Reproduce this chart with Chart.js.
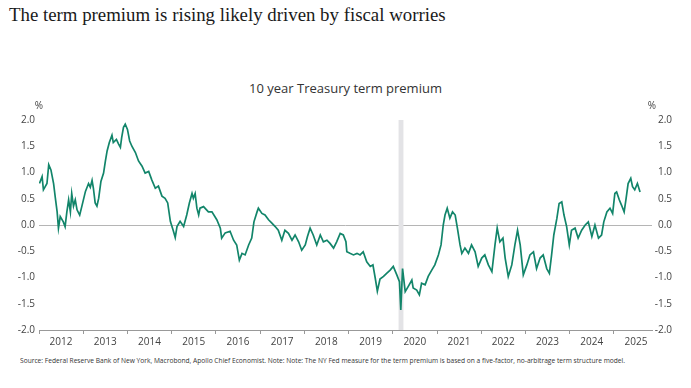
<!DOCTYPE html>
<html>
<head>
<meta charset="utf-8">
<script src="https://cdn.jsdelivr.net/npm/chart.js"></script>
<style>
  body { margin: 0; background: #fff; width: 691px; height: 388px; overflow: hidden; position: relative; font-family: "Open Sans", sans-serif; }
  #title { position: absolute; left: 9px; top: 4px; font-family: "Liberation Serif", serif; font-size: 20px; color: #1a1a1a; white-space: nowrap; }
  #sub { position: absolute; left: 0; width: 691px; top: 79px; text-align: center; font-size: 13px; color: #333; }
  #wrap { position: absolute; left: 0; top: 95px; width: 691px; height: 255px; }
  #note { position: absolute; left: 20px; top: 356px; font-size: 7px; color: #333; white-space: nowrap; transform-origin: 0 0; }
</style>
</head>
<body>
<div id="title">The term premium is rising likely driven by fiscal worries</div>
<div id="sub">10 year Treasury term premium</div>
<div id="wrap"><canvas id="chart"></canvas></div>
<div id="note">Source: Federal Reserve Bank of New York, Macrobond, Apollo Chief Economist. Note: Note: The NY Fed measure for the term premium is based on a five-factor, no-arbitrage term structure model.</div>
<script>
// decimal years and term premium (%)
const years = [
  2012.01, 2012.07, 2012.10, 2012.18, 2012.22, 2012.27, 2012.33, 2012.37, 2012.41, 2012.44,
  2012.48, 2012.55, 2012.59, 2012.63, 2012.67, 2012.71, 2012.74, 2012.78, 2012.82, 2012.86,
  2012.92, 2012.97, 2013.05, 2013.12, 2013.16, 2013.20, 2013.23, 2013.27, 2013.31, 2013.35,
  2013.40, 2013.46, 2013.50, 2013.54, 2013.59, 2013.65, 2013.68, 2013.75, 2013.80, 2013.84,
  2013.87, 2013.91, 2013.95, 2014.00, 2014.05, 2014.10, 2014.18, 2014.25, 2014.33, 2014.40,
  2014.48, 2014.55, 2014.63, 2014.70, 2014.78, 2014.85, 2014.91, 2014.97, 2015.04, 2015.08,
  2015.12, 2015.19, 2015.27, 2015.34, 2015.40, 2015.46, 2015.49, 2015.53, 2015.57, 2015.61,
  2015.64, 2015.72, 2015.83, 2015.91, 2016.02, 2016.10, 2016.13, 2016.21, 2016.32, 2016.40,
  2016.47, 2016.53, 2016.59, 2016.66, 2016.74, 2016.81, 2016.86, 2016.93, 2016.96, 2017.04,
  2017.11, 2017.19, 2017.26, 2017.34, 2017.41, 2017.49, 2017.56, 2017.64, 2017.72, 2017.79,
  2017.87, 2017.94, 2018.02, 2018.07, 2018.13, 2018.20, 2018.28, 2018.36, 2018.43, 2018.51,
  2018.58, 2018.66, 2018.73, 2018.81, 2018.88, 2018.94, 2018.96, 2019.03, 2019.11, 2019.19,
  2019.26, 2019.33, 2019.41, 2019.49, 2019.55, 2019.60, 2019.65, 2019.71, 2019.79, 2019.86,
  2019.94, 2020.01, 2020.09, 2020.15, 2020.18, 2020.22, 2020.28, 2020.35, 2020.43, 2020.46,
  2020.54, 2020.60, 2020.65, 2020.73, 2020.80, 2020.88, 2020.95, 2021.03, 2021.09, 2021.14,
  2021.18, 2021.23, 2021.29, 2021.35, 2021.41, 2021.46, 2021.52, 2021.56, 2021.63, 2021.71,
  2021.78, 2021.86, 2021.93, 2022.01, 2022.08, 2022.16, 2022.24, 2022.31, 2022.36, 2022.42,
  2022.49, 2022.54, 2022.61, 2022.69, 2022.76, 2022.82, 2022.88, 2022.95, 2023.03, 2023.10,
  2023.18, 2023.25, 2023.33, 2023.40, 2023.48, 2023.54, 2023.59, 2023.64, 2023.71, 2023.76,
  2023.82, 2023.87, 2023.93, 2023.99, 2024.04, 2024.12, 2024.19, 2024.27, 2024.35, 2024.42,
  2024.50, 2024.57, 2024.65, 2024.72, 2024.77, 2024.84, 2024.91, 2024.97, 2025.02, 2025.06,
  2025.12, 2025.17, 2025.23, 2025.27, 2025.32, 2025.38, 2025.42, 2025.47, 2025.53, 2025.59
];
const premium = [
  0.79, 0.92, 0.67, 0.79, 1.15, 1.05, 0.79, 0.51, 0.25, -0.06,
  0.16, 0.06, -0.03, 0.25, 0.48, 0.25, 0.60, 0.36, 0.48, 0.29,
  0.19, 0.36, 0.64, 0.79, 0.72, 0.85, 0.70, 0.42, 0.36, 0.51,
  0.83, 0.99, 1.21, 1.41, 1.57, 1.71, 1.57, 1.63, 1.54, 1.48,
  1.67, 1.86, 1.92, 1.82, 1.60, 1.50, 1.38, 1.22, 1.12, 0.99,
  1.02, 0.86, 0.70, 0.74, 0.55, 0.51, 0.42, 0.07, -0.12, -0.24,
  -0.03, 0.07, -0.03, 0.19, 0.42, 0.60, 0.51, 0.60, 0.32, 0.19,
  0.32, 0.35, 0.25, 0.25, 0.10, -0.06, -0.25, -0.15, -0.12, -0.29,
  -0.38, -0.67, -0.54, -0.57, -0.38, -0.25, 0.06, 0.25, 0.32, 0.22,
  0.19, 0.10, 0.04, -0.03, -0.10, -0.29, -0.10, -0.16, -0.29, -0.19,
  -0.32, -0.48, -0.38, -0.22, -0.06, -0.19, -0.38, -0.19, -0.32, -0.29,
  -0.35, -0.44, -0.32, -0.16, -0.19, -0.32, -0.51, -0.54, -0.57, -0.54,
  -0.57, -0.51, -0.70, -0.79, -0.76, -1.00, -1.26, -1.03, -0.98, -0.92,
  -0.86, -0.79, -0.95, -1.08, -1.62, -0.83, -1.27, -1.17, -1.05, -1.20,
  -1.24, -1.33, -1.11, -1.14, -0.98, -0.86, -0.76, -0.57, -0.38, 0.00,
  0.19, 0.32, 0.13, 0.25, 0.19, -0.06, -0.38, -0.54, -0.44, -0.54,
  -0.38, -0.51, -0.79, -0.63, -0.57, -0.76, -0.89, -0.38, -0.06, -0.32,
  -0.25, -0.63, -0.98, -0.76, -0.38, -0.10, -0.38, -0.95, -0.76, -0.57,
  -0.51, -0.83, -0.63, -0.57, -0.83, -0.92, -0.57, -0.19, 0.13, 0.41,
  0.44, 0.19, -0.03, -0.38, -0.10, -0.06, -0.25, -0.10, 0.00, 0.06,
  -0.22, 0.00, -0.25, -0.19, 0.06, 0.25, 0.32, 0.22, 0.60, 0.63,
  0.48, 0.38, 0.25, 0.48, 0.79, 0.89, 0.73, 0.67, 0.79, 0.63
];
const yearTicks = [2012, 2013, 2014, 2015, 2016, 2017, 2018, 2019, 2020, 2021, 2022, 2023, 2024, 2025];
const valueTicks = [-2, -1.5, -1, -0.5, 0, 0.5, 1, 1.5, 2];
const covidBand = [2020.13, 2020.24];

// fit the header and footer text to the width seen in the picture
const title = document.getElementById('title');
title.style.fontSize = (20 * 437 / title.offsetWidth) + 'px';
const note = document.getElementById('note');
note.style.transform = 'scaleX(' + (605 / note.offsetWidth) + ')';

const tickFont = { family: '"Open Sans", sans-serif', size: 10 };
const tickColor = '#444';

const extras = {
  id: 'extras',
  beforeDatasetsDraw(chart) {
    const { ctx, chartArea, scales } = chart;
    const x0 = scales.x.getPixelForValue(covidBand[0]);
    const x1 = scales.x.getPixelForValue(covidBand[1]);
    ctx.save();
    ctx.fillStyle = '#e3e3e6';
    ctx.fillRect(x0, chartArea.top, x1 - x0, chartArea.bottom - chartArea.top);
    ctx.restore();
  },
  afterDraw(chart) {
    const { ctx, chartArea } = chart;
    ctx.save();
    ctx.font = '10px "Open Sans", sans-serif';
    ctx.fillStyle = tickColor;
    ctx.textAlign = 'center';
    ctx.fillText('%', chartArea.left, chartArea.top - 11);
    ctx.fillText('%', chartArea.right, chartArea.top - 11);
    ctx.restore();
  }
};

new Chart(document.getElementById('chart'), {
  type: 'line',
  data: {
    datasets: [{
      data: years.map((x, i) => ({ x: x, y: premium[i] })),
      borderColor: '#12856a',
      borderWidth: 1.7,
      pointRadius: 0,
      tension: 0
    }]
  },
  options: {
    responsive: true,
    maintainAspectRatio: false,
    animation: false,
    layout: { padding: { top: 25, right: 19, bottom: 0, left: 0 } },
    plugins: { legend: { display: false }, tooltip: { enabled: false } },
    scales: {
      x: {
        type: 'linear',
        min: 2012,
        max: 2025.86,
        afterBuildTicks: s => { s.ticks = yearTicks.map(v => ({ value: v })); },
        ticks: {
          autoSkip: false, maxRotation: 0, labelOffset: 22, padding: 2,
          font: tickFont, color: tickColor,
          callback: v => String(v)
        },
        grid: { drawOnChartArea: false, drawTicks: true, tickLength: 4, color: '#999' },
        border: { display: true, color: '#999' }
      },
      y: {
        position: 'left',
        min: -2, max: 2,
        afterBuildTicks: s => { s.ticks = valueTicks.map(v => ({ value: v })); },
        afterFit: s => { s.width = 39; },
        ticks: { font: tickFont, color: tickColor, padding: 4, callback: v => v.toFixed(1) },
        grid: { drawTicks: false, color: c => c.tick && c.tick.value === 0 ? '#b5b5b5' : 'rgba(0,0,0,0)' },
        border: { display: false }
      },
      y2: {
        position: 'right',
        min: -2, max: 2,
        afterBuildTicks: s => { s.ticks = valueTicks.map(v => ({ value: v })); },
        afterFit: s => { s.width = 20; },
        ticks: { font: tickFont, color: tickColor, crossAlign: 'far', callback: v => v.toFixed(1) },
        grid: { display: false },
        border: { display: false }
      }
    }
  },
  plugins: [extras]
});
</script>
</body>
</html>
